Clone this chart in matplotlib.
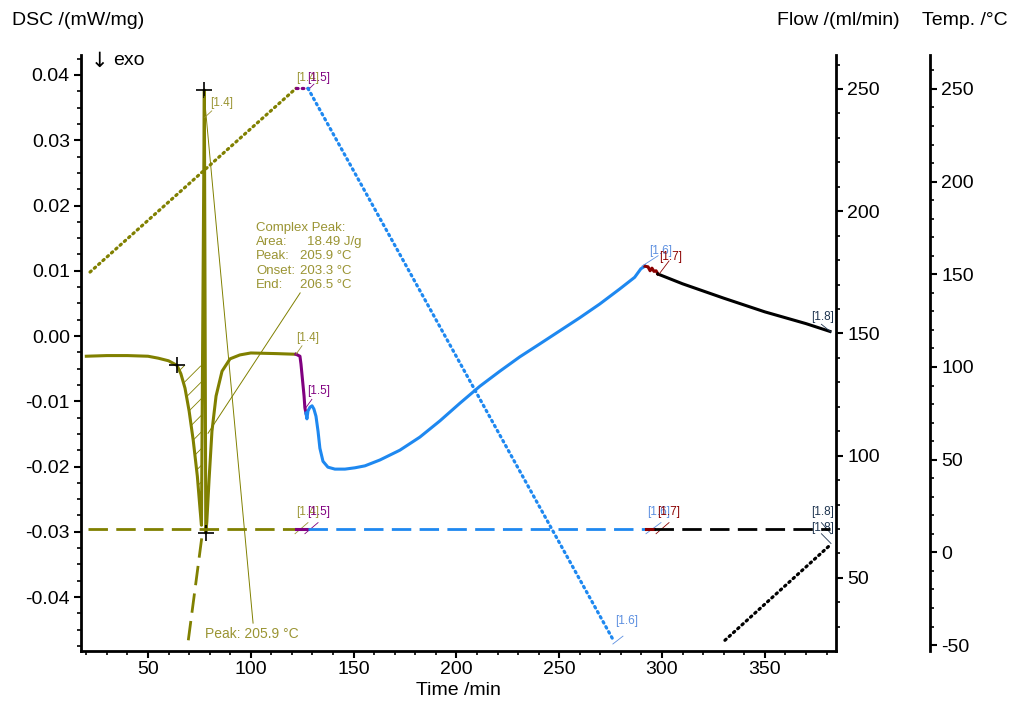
import matplotlib
matplotlib.use("Agg")
import matplotlib.pyplot as plt
from matplotlib.ticker import MultipleLocator, FormatStrFormatter

plt.rcParams["font.family"] = ["Liberation Sans", "DejaVu Sans"]
plt.rcParams["axes.unicode_minus"] = False
plt.rcParams["hatch.linewidth"] = 0.6

# ── Data (time /min, DSC /(mW/mg), flow /(ml/min), temp /°C) ────────────────

# DSC signal, split by segment
dsc_t_14 = [20.0, 30.0, 40.0, 50.0, 55.0, 60.0, 64.1, 66.0, 68.0, 70.0, 72.0,
            74.0, 75.3, 76.0, 76.6, 77.4, 77.8, 78.1, 78.6, 79.7, 81.1, 83.1,
            86.0, 89.9, 94.7, 100.0, 112.7, 122.0]
dsc_v_14 = [-0.0031, -0.0030, -0.0030, -0.0031, -0.0034, -0.0038, -0.0045,
            -0.0058, -0.0080, -0.0115, -0.0160, -0.0215, -0.0265, -0.0290,
            0.0000, 0.0377, 0.0000, -0.0302, -0.0285, -0.0220, -0.0146,
            -0.0092, -0.0054, -0.0035, -0.0029, -0.0026, -0.0027, -0.0028]

dsc_t_15 = [122.0, 123.9, 124.4, 125.9, 126.3, 126.8]
dsc_v_15 = [-0.0028, -0.0031, -0.0043, -0.0092, -0.0110, -0.0118]

dsc_t_16 = [126.8, 127.3, 127.8, 128.8, 129.8, 130.7, 131.7, 132.7, 133.6,
            135.1, 137.5, 140.9, 145.8, 150.6, 155.5, 162.8, 172.5, 182.2,
            192.0, 201.7, 211.4, 221.1, 230.8, 240.6, 250.3, 260.0, 269.7,
            279.4, 286.7, 289.7, 291.7]
dsc_v_16 = [-0.0118, -0.0127, -0.0115, -0.0109, -0.0107, -0.0112, -0.0123,
            -0.0146, -0.0172, -0.0192, -0.0201, -0.0204, -0.0204, -0.0202,
            -0.0199, -0.0190, -0.0175, -0.0155, -0.0130, -0.0103, -0.0077,
            -0.0054, -0.0032, -0.0012, 0.0008, 0.0028, 0.0049, 0.0072,
            0.0090, 0.0103, 0.0107]

dsc_t_17 = [291.7, 293.2, 294.2, 295.1, 296.1, 297.1, 298.0]
dsc_v_17 = [0.0107, 0.0106, 0.0100, 0.0104, 0.0099, 0.0100, 0.0095]

dsc_t_18 = [298.0, 310.0, 330.0, 350.0, 370.0, 381.7]
dsc_v_18 = [0.0095, 0.0080, 0.0058, 0.0037, 0.0019, 0.0007]

# temperature program (dotted)
temp_t_14 = [21.8, 122.0]
temp_v_14 = [151.2, 250.3]
temp_t_15 = [122.0, 127.8]
temp_v_15 = [250.3, 250.3]
temp_t_16 = [127.8, 276.6]
temp_v_16 = [250.3, -47.9]
temp_t_18 = [330.6, 381.7]
temp_v_18 = [-47.4, 3.9]

# purge gas flow (dashed)
flow_t_14 = [20.8, 122.0]
flow_v_14 = [70.0, 70.0]
flow_ramp_t = [69.6, 73.2, 76.7]
flow_ramp_v = [24.5, 47.5, 70.0]
flow_t_15 = [122.0, 128.0]
flow_t_16 = [128.0, 292.0]
flow_t_17 = [292.0, 296.0]
flow_t_18 = [296.0, 381.7]

# peak evaluation
onset_t, onset_v = 64.1, -0.0045
peak_t, peak_v = 77.4, 0.0377
min_t, min_v = 78.1, -0.0302
peak_info = ["Complex Peak:", "Area:", "Peak:", "Onset:", "End:"]
peak_vals = ["", "18.49 J/g", "205.9 °C", "203.3 °C", "206.5 °C"]

OLIVE = "#808000"
OLIVE_TXT = "#9a9433"
BLUE = "#1e88f0"
BLUE_TXT = "#5c8fe0"
PURPLE = "#800080"
DARKRED = "#8b0000"
NAVY = "#1f3550"

fig = plt.figure(figsize=(10.16, 7.02), dpi=100)
ax = fig.add_axes([0.0797, 0.0726, 0.7431, 0.8491])
ax_flow = ax.twinx()
ax_temp = ax.twinx()
ax_temp.spines["right"].set_position(("axes", 1.1245))

for a in (ax, ax_flow, ax_temp):
    a.spines["top"].set_visible(False)
    a.patch.set_visible(False)
ax.spines["right"].set_visible(False)
for a in (ax_flow, ax_temp):
    a.spines["left"].set_visible(False)
    a.spines["bottom"].set_visible(False)
for sp in (ax.spines["left"], ax.spines["bottom"],
           ax_flow.spines["right"], ax_temp.spines["right"]):
    sp.set_linewidth(2)

ax.set_xlim(17.4, 384.6)
ax.set_ylim(-0.04828, 0.04307)
ax_flow.set_ylim(20.1, 263.9)
ax_temp.set_ylim(-53.2, 268.3)

ax.xaxis.set_major_locator(MultipleLocator(50))
ax.xaxis.set_minor_locator(MultipleLocator(10))
ax.yaxis.set_major_locator(MultipleLocator(0.01))
ax.yaxis.set_minor_locator(MultipleLocator(0.0025))
ax.yaxis.set_major_formatter(FormatStrFormatter("%.2f"))
for a in (ax_flow, ax_temp):
    a.yaxis.set_major_locator(MultipleLocator(50))
    a.yaxis.set_minor_locator(MultipleLocator(10))
ax_flow.set_yticks([50, 100, 150, 200, 250])
ax_temp.set_yticks([-50, 0, 50, 100, 150, 200, 250])
for a in (ax, ax_flow, ax_temp):
    a.tick_params(which="major", length=5, width=1.5, labelsize=14, pad=3)
    a.tick_params(which="minor", length=3, width=1.2)
ax.tick_params(axis="x", which="major", pad=2)

# temperature (dotted)
dot = (0, (0.5, 1.3))
for t, v, c in [(temp_t_14, temp_v_14, OLIVE), (temp_t_15, temp_v_15, PURPLE),
                (temp_t_16, temp_v_16, BLUE), (temp_t_18, temp_v_18, "black")]:
    ax_temp.plot(t, v, color=c, lw=2.3, ls=dot, dash_capstyle="round")

# flow (dashed)
dash = (0, (7, 3))
ax_flow.plot(flow_t_14, flow_v_14, color=OLIVE, lw=2, ls=dash)
ax_flow.plot(flow_ramp_t, flow_ramp_v, color=OLIVE, lw=2, ls=dash)
ax_flow.plot(flow_t_15, flow_v_14, color=PURPLE, lw=2.2)
ax_flow.plot(flow_t_16, flow_v_14, color=BLUE, lw=2, ls=dash)
ax_flow.plot(flow_t_17, flow_v_14, color=DARKRED, lw=2.2)
ax_flow.plot(flow_t_18, flow_v_14, color="black", lw=2, ls=dash)

# DSC (solid)
ax.plot(dsc_t_14, dsc_v_14, color=OLIVE, lw=2.2)
ax.plot(dsc_t_15, dsc_v_15, color=PURPLE, lw=2.2)
ax.plot(dsc_t_16, dsc_v_16, color=BLUE, lw=2.2)
ax.plot(dsc_t_17, dsc_v_17, color=DARKRED, lw=2.2)
ax.plot(dsc_t_18, dsc_v_18, color="black", lw=2.2)

# hatched peak area
i0 = dsc_t_14.index(onset_t)
i1 = dsc_t_14.index(min_t)
ax.fill_between(dsc_t_14[i0:i1 + 1], dsc_v_14[i0:i1 + 1], onset_v,
                facecolor="none", edgecolor=OLIVE, hatch="//", linewidth=0)

for (mt, mv) in [(onset_t, onset_v), (peak_t, peak_v), (min_t, min_v)]:
    ax.plot(mt, mv, marker="+", color="black", ms=11, mew=1.2)

# peak evaluation text + leader lines
ax.plot([peak_t, 101.1], [peak_v - 0.001, -0.0440], color=OLIVE, lw=0.7)
ax.text(77.7, -0.0456, "Peak: 205.9 °C", color=OLIVE_TXT, fontsize=10,
        va="center", ha="left")
ax.plot([79.2, 124.0], [-0.0149, 0.0066], color=OLIVE, lw=0.7)
for k, (lab, val) in enumerate(zip(peak_info, peak_vals)):
    y = 0.0166 - k * 0.00219
    ax.text(102.5, y, lab, color=OLIVE_TXT, fontsize=9.5, va="center")
    if val:
        x = 127.3 if k == 1 else 123.9
        ax.text(x, y, val, color=OLIVE_TXT, fontsize=9.5, va="center")

# segment labels: text, colour, leader start (t, dsc), label pos, leader end
seg_labels = [
    ("[1.4]", OLIVE_TXT, 77.6, 0.0335, 80.3, 0.0357, 81.0, 0.0345),
    ("[1.4]", OLIVE_TXT, 122.0, -0.0028, 122.0, -0.0003, 124.9, -0.0015),
    ("[1.5]", PURPLE, 126.3, -0.0112, 127.3, -0.0084, 129.7, -0.0097),
    ("[1.6]", BLUE_TXT, 290.2, 0.0107, 293.7, 0.0130, 298.1, 0.0123),
    ("[1.7]", DARKRED, 298.6, 0.0095, 298.6, 0.0121, 303.4, 0.0115),
    ("[1.8]", NAVY, 382.2, 0.0006, 372.6, 0.0029, 377.5, 0.0018),
    ("[1.4]", OLIVE_TXT, 122.0, 0.0377, 122.0, 0.0396, 122.0, 0.0377),
    ("[1.5]", PURPLE, 127.8, 0.0377, 127.3, 0.0396, 130.7, 0.0386),
    ("[1.4]", OLIVE_TXT, 121.5, -0.0303, 122.0, -0.0270, 127.8, -0.0286),
    ("[1.5]", PURPLE, 126.3, -0.0303, 127.3, -0.0270, 132.7, -0.0286),
    ("[1.6]", BLUE_TXT, 292.2, -0.0303, 292.7, -0.0270, 299.5, -0.0286),
    ("[1.7]", DARKRED, 297.1, -0.0303, 297.6, -0.0270, 303.4, -0.0286),
    ("[1.8]", NAVY, 382.2, -0.0303, 372.6, -0.0270, 377.5, -0.0286),
    ("[1.8]", NAVY, 382.2, -0.0318, 372.6, -0.0294, 377.5, -0.0303),
    ("[1.6]", BLUE_TXT, 276.1, -0.0472, 277.0, -0.0437, 281.0, -0.0460),
]
for txt, col, at, av, lt, lv, et, ev in seg_labels:
    ax.plot([at, et], [av, ev], color=col, lw=0.6)
    ax.text(lt, lv, txt, color=col, fontsize=8.5, va="center", ha="left")

ax.text(0.013, 0.99, "↓", transform=ax.transAxes, fontsize=15,
        family="DejaVu Sans", va="center", ha="left")
ax.text(0.042, 0.99, "exo", transform=ax.transAxes, fontsize=14,
        va="center", ha="left")

fig.text(0.0118, 0.9715, "DSC /(mW/mg)", fontsize=14, va="center", ha="left")
fig.text(0.765, 0.9715, "Flow /(ml/min)", fontsize=14, va="center", ha="left")
fig.text(0.9075, 0.9715, "Temp. /°C", fontsize=14, va="center", ha="left")
fig.text(0.4508, 0.017, "Time /min", fontsize=14, va="center", ha="center")

fig.savefig("out.png", dpi=100)
